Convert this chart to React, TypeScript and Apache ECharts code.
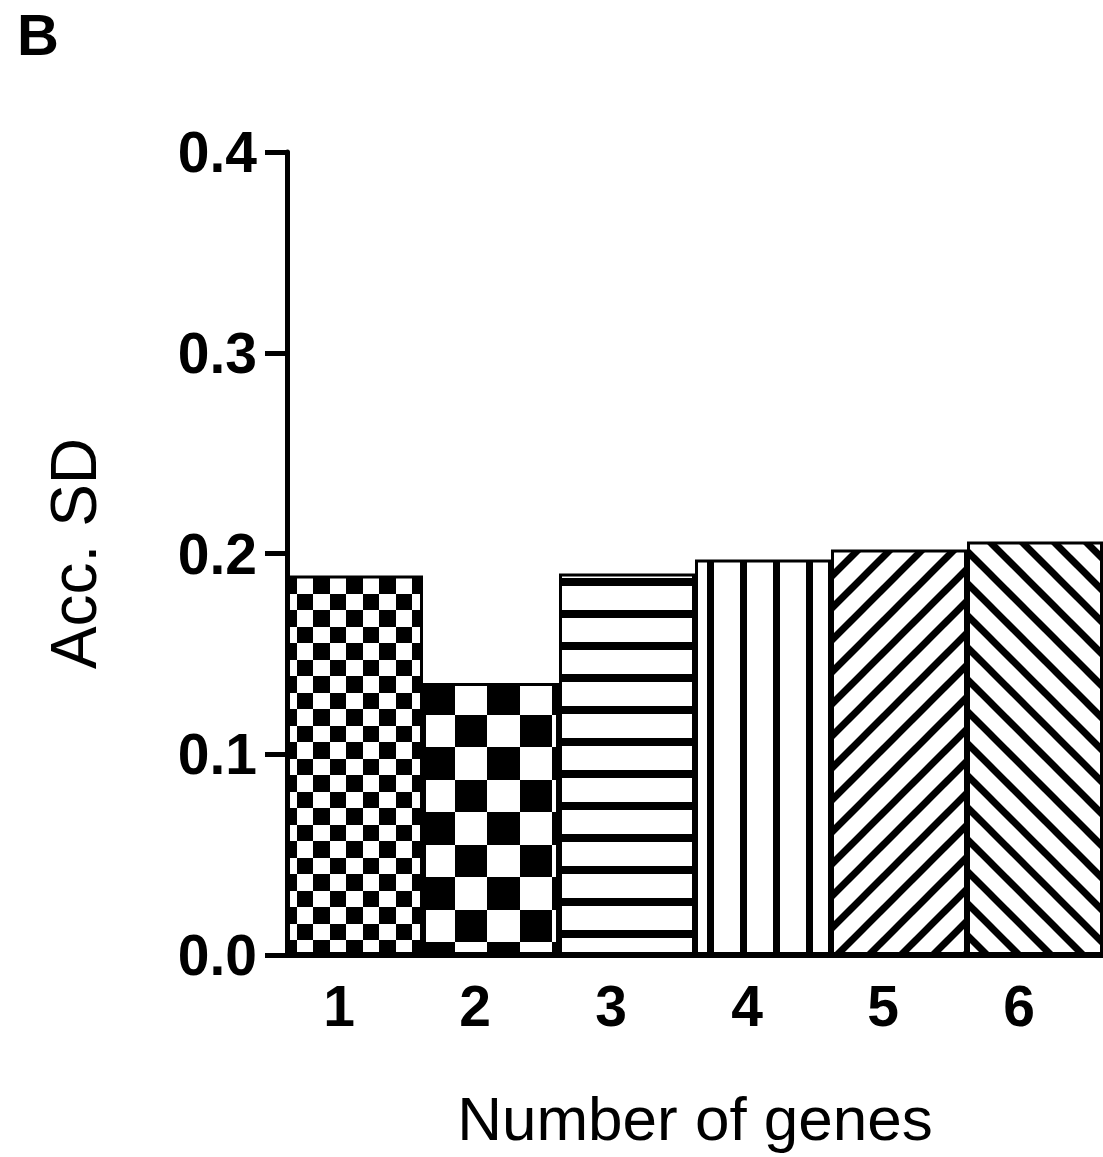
import React, { useEffect, useRef } from "react";
import * as echarts from "echarts";

// Accuracy standard deviation by number of genes
const categories = ["1", "2", "3", "4", "5", "6"];
const accSD = [0.189, 0.1355, 0.19, 0.197, 0.202, 0.206];
const yTicks = [0, 0.1, 0.2, 0.3, 0.4];

const FONT = "'Liberation Sans', Arial, Helvetica, sans-serif";

type Hatch = "checkSmall" | "checkLarge" | "hLines" | "vLines" | "diagUp" | "diagDown";
const hatches: Hatch[] = ["checkSmall", "checkLarge", "hLines", "vLines", "diagUp", "diagDown"];

function makeTile(kind: Hatch) {
  const c = document.createElement("canvas");
  let size = 32;
  let origin = [0, 0];
  if (kind === "checkSmall") size = 33;
  if (kind === "checkLarge") size = 65;
  if (kind === "vLines") size = 33;
  c.width = size;
  c.height = size;
  const g = c.getContext("2d")!;
  g.fillStyle = "#ffffff";
  g.fillRect(0, 0, size, size);
  g.fillStyle = "#000000";
  g.strokeStyle = "#000000";
  if (kind === "checkSmall" || kind === "checkLarge") {
    const h = Math.floor(size / 2);
    g.fillRect(0, 0, h, h);
    g.fillRect(h, h, size - h, size - h);
    origin = kind === "checkSmall" ? [290, 943] : [435, 910];
  } else if (kind === "hLines") {
    g.fillRect(0, 2, size, 8);
  } else if (kind === "vLines") {
    g.fillRect(14, 0, 7, size);
  } else {
    g.lineWidth = 7;
    g.lineCap = "square";
    const s = size;
    const segs =
      kind === "diagUp"
        ? [[-s, s, s, -s], [0, s, s, 0], [0, 2 * s, 2 * s, 0]]
        : [[-s, 0, s, 2 * s], [0, 0, s, s], [0, -s, 2 * s, s]];
    for (const [x1, y1, x2, y2] of segs) {
      g.beginPath();
      g.moveTo(x1, y1);
      g.lineTo(x2, y2);
      g.stroke();
    }
  }
  return {
    image: c,
    repeat: "repeat",
    imageWidth: size,
    imageHeight: size,
    x: origin[0],
    y: origin[1],
  } as any;
}

export default function App() {
  const ref = useRef<HTMLDivElement>(null);

  useEffect(() => {
    if (!ref.current) return;
    const chart = echarts.init(ref.current, null, { renderer: "svg" });

    const data = accSD.map((v, i) => ({
      value: v,
      itemStyle: {
        color: makeTile(hatches[i]),
        borderColor: "#000",
        borderWidth: 3,
      },
    }));

    chart.setOption({
      animation: false,
      backgroundColor: "#ffffff",
      graphic: [
        {
          type: "text",
          left: 17,
          top: 5,
          style: {
            text: "B",
            font: `bold 58px ${FONT}`,
            fill: "#000",
          },
        },
      ],
      grid: { left: 287, right: 0, top: 152, bottom: 202 },
      xAxis: {
        type: "category",
        data: categories,
        name: "Number of genes",
        nameLocation: "middle",
        nameGap: 132,
        nameTextStyle: { fontFamily: FONT, fontSize: 62, color: "#000" },
        axisLine: { lineStyle: { color: "#000", width: 5 } },
        axisTick: { alignWithLabel: true, length: 12, lineStyle: { width: 5, color: "#000" } },
        axisLabel: {
          fontFamily: FONT,
          fontWeight: "bold",
          fontSize: 57,
          color: "#000",
          margin: 22,
          padding: [0, 32, 0, 0],
        },
      },
      yAxis: {
        type: "value",
        min: 0,
        max: yTicks[yTicks.length - 1],
        interval: 0.1,
        name: "Acc. SD",
        nameLocation: "middle",
        nameGap: 181,
        nameTextStyle: { fontFamily: FONT, fontSize: 64, color: "#000" },
        splitLine: { show: false },
        axisLine: { show: true, lineStyle: { color: "#000", width: 5 } },
        axisTick: { show: true, length: 22, lineStyle: { width: 5, color: "#000" } },
        axisLabel: {
          fontFamily: FONT,
          fontWeight: "bold",
          fontSize: 57,
          color: "#000",
          margin: 30,
          formatter: (v: number) => v.toFixed(1),
        },
      },
      series: [
        {
          type: "bar",
          data,
          barWidth: "100%",
          barCategoryGap: "0%",
        },
      ],
    });

    return () => chart.dispose();
  }, []);

  return (
    <div
      ref={ref}
      style={{ position: "fixed", left: 0, top: 0, width: 1103, height: 1157, background: "#fff" }}
    />
  );
}
